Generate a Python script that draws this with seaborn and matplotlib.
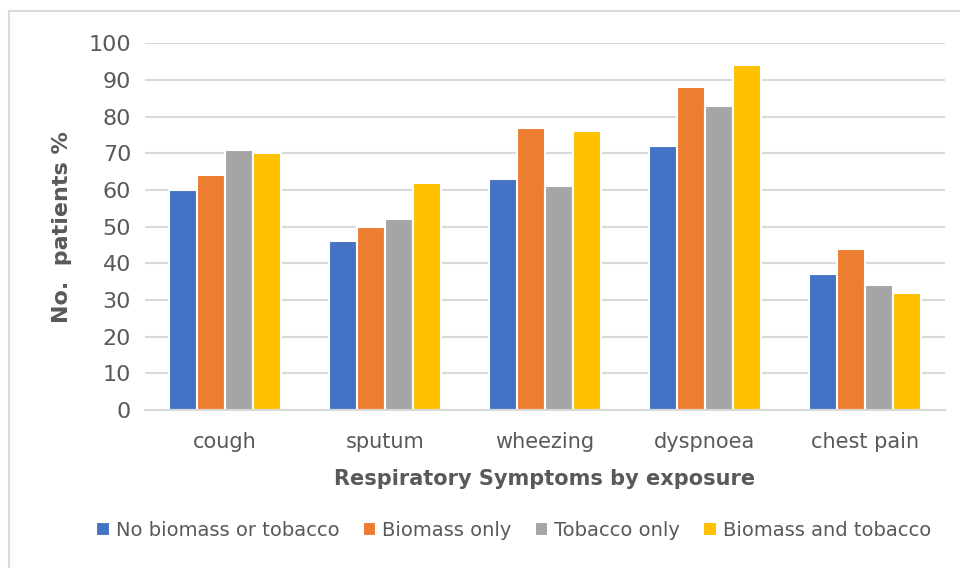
import pandas as pd
import matplotlib
matplotlib.use("Agg")
import matplotlib.pyplot as plt
import seaborn as sns
from matplotlib.patches import Rectangle

# Chart data
symptoms = ["cough", "sputum", "wheezing", "dyspnoea", "chest pain"]
groups = ["No biomass or tobacco", "Biomass only", "Tobacco only", "Biomass and tobacco"]
no_exposure = [60, 46, 63, 72, 37]
biomass_only = [64, 50, 77, 88, 44]
tobacco_only = [71, 52, 61, 83, 34]
biomass_and_tobacco = [70, 62, 76, 94, 32]
colors = ["#4472C4", "#ED7D31", "#A5A5A5", "#FFC000"]

# Long-form table for seaborn
series = [no_exposure, biomass_only, tobacco_only, biomass_and_tobacco]
rows = []
for g, vals in zip(groups, series):
    for s, v in zip(symptoms, vals):
        rows.append({"symptom": s, "group": g, "value": v})
df = pd.DataFrame(rows)

sns.set_style("white")
plt.rcParams["font.family"] = ["DejaVu Sans"]
text_col = "#595959"

fig = plt.figure(figsize=(9.6, 5.68), dpi=100)
ax = fig.add_axes([0.151, 0.278, 0.833, 0.646])

sns.barplot(data=df, x="symptom", y="value", hue="group", order=symptoms,
            hue_order=groups, palette=colors, width=0.7, saturation=1,
            edgecolor="white", linewidth=1.5, ax=ax)

ax.set_ylim(0, 100)
ax.set_yticks(range(0, 101, 10))
ax.yaxis.grid(True, color="#d9d9d9", linewidth=1.5)
ax.set_axisbelow(True)
for side in ["top", "right", "left"]:
    ax.spines[side].set_visible(False)
ax.spines["bottom"].set_color("#d9d9d9")
ax.spines["bottom"].set_linewidth(1.5)
ax.tick_params(axis="y", length=0, labelsize=16, labelcolor=text_col, pad=10)
ax.tick_params(axis="x", length=0, labelsize=15, labelcolor=text_col, pad=16)

ax.set_xlabel("Respiratory Symptoms by exposure", fontsize=15, fontweight="bold",
              color=text_col, labelpad=12)
ax.set_ylabel("No.  patients %", fontsize=16, fontweight="bold", color=text_col,
              labelpad=12)

handles, labels = ax.get_legend_handles_labels()
ax.get_legend().remove()
fig.legend(handles, labels, loc="center", bbox_to_anchor=(0.535, 0.066), ncol=4,
           frameon=False, fontsize=14, handlelength=0.7, handleheight=0.7,
           handletextpad=0.3, columnspacing=1.2, labelcolor=text_col)

# light frame around the chart area
fig.patches.append(Rectangle((0.009, -0.01), 1.0, 0.99, transform=fig.transFigure,
                             fill=False, edgecolor="#d9d9d9", linewidth=1.5))

fig.savefig("out.png", dpi=100, facecolor="white")
